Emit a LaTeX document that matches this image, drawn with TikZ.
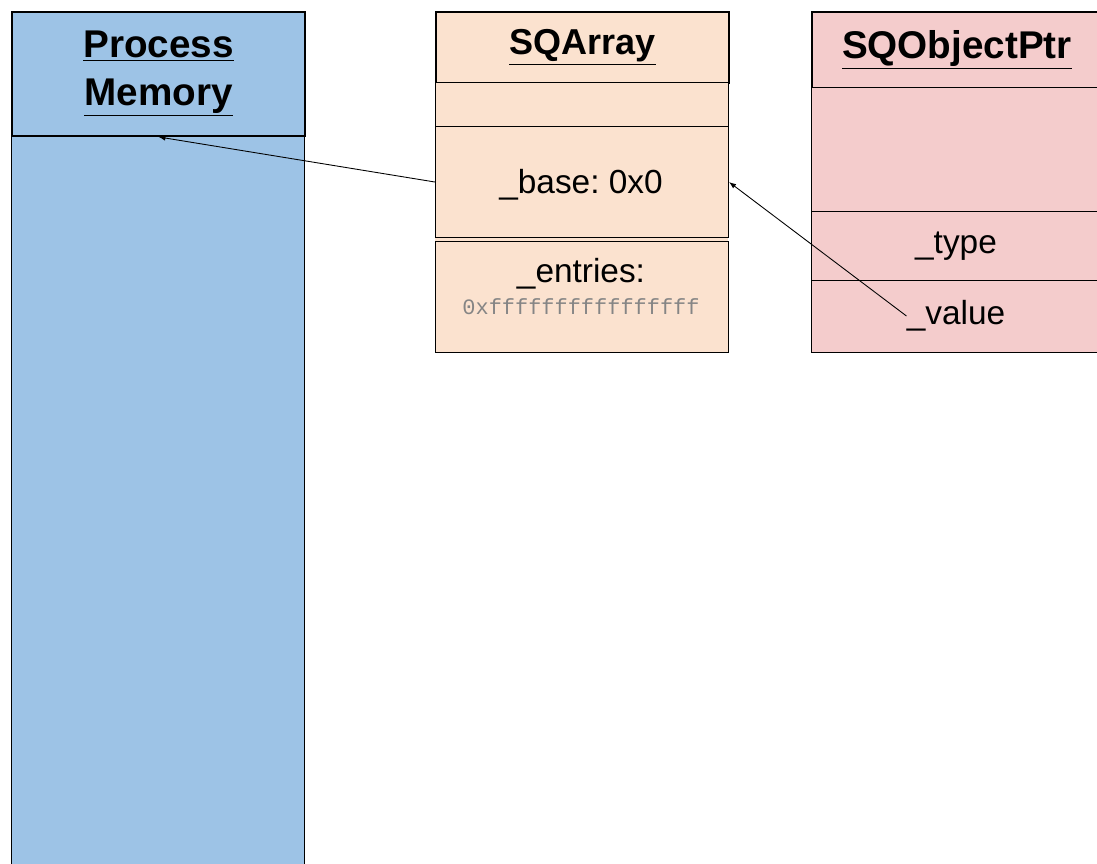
\documentclass[tikz,border=0pt]{standalone}
\usepackage{fontspec}
\setmainfont{Liberation Sans}
\setmonofont{Liberation Mono}
\usetikzlibrary{positioning,arrows.meta}

\definecolor{pmblue}{HTML}{9DC3E6}
\definecolor{arrpeach}{HTML}{FBE2CF}
\definecolor{objpink}{HTML}{F4CCCC}
\definecolor{hexgray}{HTML}{858585}
\newcommand{\uline}[1]{\underline{#1}}

\begin{document}
\frenchspacing
\begin{tikzpicture}[>={Latex[length=4pt]}, x=0.02cm, y=-0.02cm,
  cell/.style={draw, line width=0.6pt, inner sep=0pt, anchor=north west,
    font=\fontsize{19}{21}\selectfont, align=center},
  head/.style={cell, line width=1.1pt, font=\fontsize{22}{27}\selectfont\bfseries},
  txt/.style={inner sep=0pt, font=\fontsize{19}{21}\selectfont}]
  \useasboundingbox (0,0) rectangle (1097,863);
  % process memory
  \node[cell, line width=0.8pt, fill=pmblue, minimum width=5.86cm, minimum height=14.8cm] (pmbody) at (11,135) {};
  \node[head, fill=pmblue, minimum width=5.86cm, minimum height=2.48cm] (pmhead) at (11,11)
    {\uline{Process}\\\uline{Memory}};
  % SQArray
  \fill[arrpeach] (435,11) rectangle (728,352);
  \node[head, fill=arrpeach, minimum width=5.86cm, minimum height=1.42cm,
    font=\fontsize{20.5}{24}\selectfont\bfseries] (arrhead) at (435,11) {\uline{SQArray}};
  \node[cell, fill=arrpeach, minimum width=5.86cm, minimum height=0.88cm] (arrtop) at (435,82) {};
  \node[cell, fill=arrpeach, minimum width=5.86cm, minimum height=2.22cm] (base) at (435,126) {};
  \node[txt] (basetxt) at (581,185) {\_base: 0x0};
  \node[cell, fill=arrpeach, minimum width=5.86cm, minimum height=2.22cm] (entries) at (435,241) {};
  \node[txt] (enttxt) at (581,274) {\_entries:};
  \node[inner sep=0pt, font=\ttfamily\fontsize{12.5}{14}\selectfont, text=hexgray] (enthex) at (581,307)
    {0xffffffffffffffff};
  % SQObjectPtr
  \node[head, fill=objpink, minimum width=5.8cm, minimum height=1.52cm] (objhead) at (811,11)
    {\uline{SQObjectPtr}};
  \node[cell, fill=objpink, minimum width=5.8cm, minimum height=2.48cm] (objtop) at (811,87) {};
  \node[cell, fill=objpink, minimum width=5.8cm, minimum height=1.38cm] (objtype) at (811,211) {};
  \node[txt] (typetxt) at (956,246) {\_type};
  \node[cell, fill=objpink, minimum width=5.8cm, minimum height=1.44cm] (objval) at (811,280) {};
  \node[txt] (valtxt) at (956,316) {\_value};
  % pointers
  \draw[->, line width=0.5pt] (base.west) -- (pmhead.south);
  \draw[->, line width=0.5pt] (valtxt.west) -- (base.east);
\end{tikzpicture}
\end{document}
